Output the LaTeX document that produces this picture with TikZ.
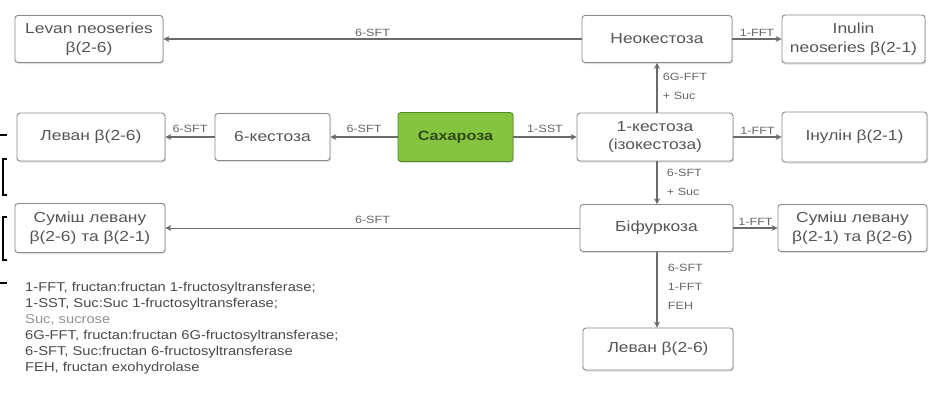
\documentclass[tikz,border=0pt]{standalone}
\usepackage{fontspec}
\setmainfont{Liberation Sans}[FakeStretch=1.15]
\newfontfamily\boxfont{Liberation Sans}[FakeStretch=1.2]
\usetikzlibrary{arrows.meta,shadows}
\definecolor{boxborder}{HTML}{8A8A8A}
\definecolor{boxtext}{HTML}{555555}
\definecolor{arrowc}{HTML}{6A6A6A}
\definecolor{labc}{HTML}{666666}
\definecolor{sucfill}{HTML}{86C440}
\definecolor{sucdraw}{HTML}{4E8A26}
\definecolor{suctext}{HTML}{2E4A1A}
\definecolor{legc}{HTML}{4A4A4A}
\tikzset{
  box/.style={draw=boxborder, line width=0.9pt, rounded corners=3pt, fill=white,
    text=boxtext, font=\boxfont\fontsize{14.5}{18.5}\selectfont, align=center, inner sep=0pt,
    drop shadow={shadow xshift=1pt, shadow yshift=-1.5pt, opacity=0.25}},
  sucbox/.style={box, fill=sucfill, draw=sucdraw, text=suctext, font=\boxfont\bfseries\fontsize{13.5}{16}\selectfont},
  arr/.style={-{Stealth[length=6pt,width=6pt]}, draw=arrowc, line width=1.8pt},
  thinarr/.style={arr, line width=1pt},
  lab/.style={font=\boxfont\fontsize{10.5}{11}\selectfont, text=labc, inner sep=1.5pt},
  vlab/.style={font=\boxfont\fontsize{10.5}{19}\selectfont, text=labc, inner sep=0pt, align=left, anchor=west},
  legend/.style={font=\fontsize{12.8}{16}\selectfont, text=legc, align=left, anchor=north west, inner sep=0pt},
  frag/.style={draw=black, line width=1.2pt}
}
\begin{document}
\begin{tikzpicture}[x=1pt,y=-1pt]
\useasboundingbox (0,0) rectangle (929,413);
\fill[white] (0,0) rectangle (929,413);

% fragments of neighbouring content at the left edge
\draw[frag] (0,135) -- (7,135);
\draw[frag] (7,159) -- (3,159) -- (3,195) -- (7,195);
\draw[frag] (7,217) -- (3,217) -- (3,260) -- (7,260);
\draw[frag] (0,283) -- (7,283);

% row 1
\node[box, minimum width=148pt, minimum height=47pt] (lns) at (89,39) {Levan neoseries\\β(2-6)};
\node[box, minimum width=150pt, minimum height=47pt] (neo) at (657,39) {Неокестоза};
\node[box, minimum width=143pt, minimum height=48pt] (ins) at (853.5,39) {Inulin\\neoseries β(2-1)};

% row 2
\node[box, minimum width=148pt, minimum height=48pt] (lev1) at (91,137) {Леван β(2-6)};
\node[box, minimum width=115pt, minimum height=47pt] (k6) at (272.5,137) {6-кестоза};
\node[sucbox, minimum width=115pt, minimum height=49pt] (suc) at (455.5,137) {Сахароза};
\node[box, minimum width=156pt, minimum height=48pt] (k1) at (655,137) {1-кестоза\\(ізокестоза)};
\node[box, minimum width=145pt, minimum height=50pt] (inu) at (854.5,137) {Інулін β(2-1)};

% row 3
\node[box, minimum width=150pt, minimum height=49pt] (mixL) at (90,228) {Суміш левану\\β(2-6) та β(2-1)};
\node[box, minimum width=153pt, minimum height=47pt] (bif) at (656.5,228) {Біфуркоза};
\node[box, minimum width=149pt, minimum height=47pt] (mixR) at (852.5,228) {Суміш левану\\β(2-1) та β(2-6)};

% row 4
\node[box, minimum width=150pt, minimum height=42pt] (lev2) at (658,349) {Леван β(2-6)};

% connectors
\draw[arr] (neo) -- node[lab, above, pos=0.5] {6-SFT} (lns);
\draw[arr] (neo) -- node[lab, above] {1-FFT} (ins);
\draw[arr] (k1.north -| neo.south) -- node[vlab, pos=0.52, xshift=5pt] {6G-FFT\\+ Suc} (neo.south);
\draw[arr] (suc) -- node[lab, above, yshift=2pt] {1-SST} (k1);
\draw[arr] (suc) -- node[lab, above, yshift=2pt] {6-SFT} (k6);
\draw[arr] (k6) -- node[lab, above, yshift=2pt] {6-SFT} (lev1);
\draw[arr] (k1) -- node[lab, above] {1-FFT} (inu);
\draw[arr] (k1.south -| neo.south) -- node[vlab, pos=0.5, xshift=9pt] {6-SFT\\+ Suc} (bif.north -| neo.south);
\draw[thinarr] (bif) -- node[lab, above, yshift=2pt] {6-SFT} (mixL);
\draw[arr] (bif) -- node[lab, above] {1-FFT} (mixR);
\draw[arr] (bif.south -| neo.south) -- node[vlab, pos=0.46, xshift=10pt] {6-SFT\\1-FFT\\FEH} (lev2.north -| neo.south);

% legend
\node[legend] (leg) at (25,282) {1-FFT, fructan:fructan 1-fructosyltransferase;\\
1-SST, Suc:Suc 1-fructosyltransferase;\\
\textcolor{legc!60}{Suc, sucrose}\\
6G-FFT, fructan:fructan 6G-fructosyltransferase;\\
6-SFT, Suc:fructan 6-fructosyltransferase\\
FEH, fructan exohydrolase};
\end{tikzpicture}
\end{document}
